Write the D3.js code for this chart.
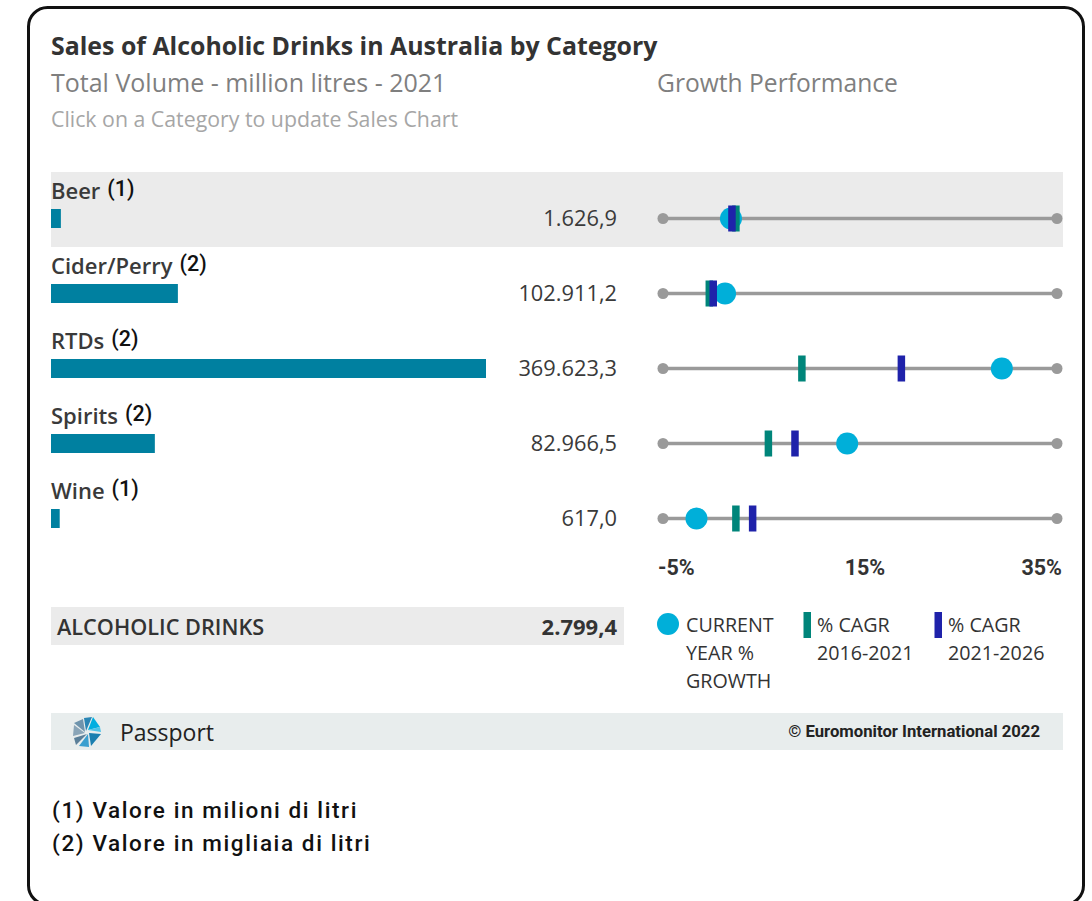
<!DOCTYPE html>
<html>
<head>
<meta charset="utf-8">
<script src="https://cdn.jsdelivr.net/npm/d3@7"></script>
<style>
  html, body { margin: 0; padding: 0; background: #ffffff; }
  svg { display: block; }
</style>
</head>
<body>
<svg id="chart" width="1092" height="901"></svg>
<script>
// ---- data ----
const categories = ["Beer", "Cider/Perry", "RTDs", "Spirits", "Wine"];
const unitNotes = ["(1)", "(2)", "(2)", "(2)", "(1)"];
const volumes = [1626.9, 102911.2, 369623.3, 82966.5, 617.0];
const currentYearGrowth = [1.9, 1.3, 29.4, 13.7, -1.6];
const cagr2016to2021 = [2.4, -0.3, 9.1, 5.7, 2.4];
const cagr2021to2026 = [2.0, 0.1, 19.2, 8.4, 4.1];
const growthDomain = [-5, 35];
const growthTicks = [-5, 15, 35];
const selectedCategory = "Beer";
const totalLabel = "ALCOHOLIC DRINKS";
const totalValue = 2799.4;
const footnotes = ["(1) Valore in milioni di litri", "(2) Valore in migliaia di litri"];

// ---- styling ----
const C = {
  bar: "#0080a0",
  current: "#00afd9",
  cagrPast: "#00857a",
  cagrFuture: "#1f22aa",
  track: "#9a9a9a",
  band: "#ebebeb",
  footer: "#e8eded",
  text: "#3a3a3a"
};
const SANS = "'Open Sans', 'Noto Sans', sans-serif";
const DIN = "Roboto, 'Noto Sans', sans-serif";

const it = d3.formatLocale({ decimal: ",", thousands: ".", grouping: [3], currency: ["", " €"] });
const fmt = it.format(",.1f");

const rows = categories.map((c, i) => ({
  name: c, note: unitNotes[i], volume: volumes[i],
  current: currentYearGrowth[i], past: cagr2016to2021[i], future: cagr2021to2026[i]
}));

const svg = d3.select("#chart");

// outer frame
svg.append("rect")
  .attr("x", 28.5).attr("y", 7.5).attr("width", 1055).attr("height", 897)
  .attr("rx", 19).attr("fill", "#fff").attr("stroke", "#111").attr("stroke-width", 3);

// ---- headings ----
svg.append("text").attr("x", 51).attr("y", 55)
  .attr("font-family", SANS).attr("font-weight", 700).attr("font-size", 24.9)
  .attr("fill", "#333").text("Sales of Alcoholic Drinks in Australia by Category");
svg.append("text").attr("x", 51).attr("y", 92)
  .attr("font-family", SANS).attr("font-size", 25).attr("fill", "#7f7f7f")
  .text("Total Volume - million litres - 2021");
svg.append("text").attr("x", 657).attr("y", 92)
  .attr("font-family", SANS).attr("font-size", 24.6).attr("fill", "#7f7f7f")
  .text("Growth Performance");
svg.append("text").attr("x", 51).attr("y", 127)
  .attr("font-family", SANS).attr("font-size", 21.3).attr("fill", "#a6a6a6")
  .text("Click on a Category to update Sales Chart");

// ---- scales ----
const rowY = d3.scalePoint().domain(categories).range([218.5, 518.5]);
const barW = d3.scaleLinear().domain([0, d3.max(volumes)]).range([8, 435]);
const gx = d3.scaleLinear().domain(growthDomain).range([663, 1057]);
const barLeft = 51;
const valueRight = 617;

// selected row band
svg.append("rect")
  .attr("x", 51).attr("y", rowY(selectedCategory) - 46.5)
  .attr("width", 1012).attr("height", 75).attr("fill", C.band);

const row = svg.selectAll("g.row").data(rows).join("g")
  .attr("class", "row")
  .attr("transform", d => `translate(0,${rowY(d.name)})`);

// category label with unit note
const lab = row.append("text").attr("x", 51).attr("y", -19.5)
  .attr("font-family", SANS).attr("font-weight", 600).attr("font-size", 22).attr("fill", C.text);
lab.append("tspan").text(d => d.name);
lab.append("tspan").attr("dx", 7).attr("dy", -3)
  .attr("font-family", DIN).attr("font-weight", 500).attr("font-size", 21.5).attr("fill", "#111")
  .text(d => d.note);

// volume bar
row.append("rect").attr("x", barLeft).attr("y", -9.5)
  .attr("width", d => barW(d.volume)).attr("height", 19).attr("fill", C.bar);

// value label
row.append("text").attr("x", valueRight).attr("y", 7.5).attr("text-anchor", "end")
  .attr("font-family", SANS).attr("font-size", 21.8).attr("fill", C.text)
  .text(d => fmt(d.volume));

// growth track
row.append("line").attr("x1", gx(growthDomain[0])).attr("x2", gx(growthDomain[1]))
  .attr("y1", 0).attr("y2", 0).attr("stroke", C.track).attr("stroke-width", 3.5);
row.selectAll("circle.end").data(growthDomain).join("circle").attr("class", "end")
  .attr("cx", v => gx(v)).attr("cy", 0).attr("r", 5.5).attr("fill", C.track);

// growth markers: current year, CAGR 2016-2021, CAGR 2021-2026
row.append("circle").attr("cx", d => gx(d.current)).attr("cy", 0).attr("r", 11).attr("fill", C.current);
row.append("rect").attr("x", d => gx(d.past) - 3.75).attr("y", -13)
  .attr("width", 7.5).attr("height", 26).attr("fill", C.cagrPast);
row.append("rect").attr("x", d => gx(d.future) - 3.75).attr("y", -13)
  .attr("width", 7.5).attr("height", 26).attr("fill", C.cagrFuture);

// growth axis labels
svg.selectAll("text.tick").data(growthTicks).join("text").attr("class", "tick")
  .attr("x", (v, i) => i === 0 ? gx(v) - 5 : i === growthTicks.length - 1 ? gx(v) + 5 : gx(v) + 5)
  .attr("y", 575)
  .attr("text-anchor", (v, i) => i === 0 ? "start" : i === growthTicks.length - 1 ? "end" : "middle")
  .attr("font-family", DIN).attr("font-weight", 700).attr("font-size", 21.5).attr("fill", "#333")
  .text(v => v + "%");

// ---- total row ----
svg.append("rect").attr("x", 51).attr("y", 607).attr("width", 573).attr("height", 38).attr("fill", C.band);
svg.append("text").attr("x", 57).attr("y", 635)
  .attr("font-family", SANS).attr("font-weight", 600).attr("font-size", 21.7).attr("fill", "#333")
  .text(totalLabel);
svg.append("text").attr("x", valueRight).attr("y", 635).attr("text-anchor", "end")
  .attr("font-family", SANS).attr("font-weight", 700).attr("font-size", 22).attr("fill", "#333")
  .text(fmt(totalValue));

// ---- legend ----
const lg = svg.append("g").attr("font-family", SANS).attr("font-size", 19.7).attr("fill", "#333");
lg.append("circle").attr("cx", 668).attr("cy", 624).attr("r", 11).attr("fill", C.current);
["CURRENT", "YEAR %", "GROWTH"].forEach((t, i) =>
  lg.append("text").attr("x", 686).attr("y", 631.5 + i * 28).text(t));
lg.append("rect").attr("x", 803.5).attr("y", 612).attr("width", 7.5).attr("height", 26).attr("fill", C.cagrPast);
["% CAGR", "2016-2021"].forEach((t, i) =>
  lg.append("text").attr("x", 817).attr("y", 631.5 + i * 28).text(t));
lg.append("rect").attr("x", 934.5).attr("y", 612).attr("width", 7.5).attr("height", 26).attr("fill", C.cagrFuture);
["% CAGR", "2021-2026"].forEach((t, i) =>
  lg.append("text").attr("x", 948).attr("y", 631.5 + i * 28).text(t));

// ---- footer bar ----
svg.append("rect").attr("x", 51).attr("y", 713).attr("width", 1012).attr("height", 37).attr("fill", C.footer);
const logo = svg.append("g").attr("transform", "translate(87,732)");
[
  { p: "M1,-2 L6,-15 L13,-5 Z", f: "#00aee0" },
  { p: "M1,-2 L13,-5 L14,0 Z", f: "#4fc3e8" },
  { p: "M-1,-1 L-3,-14 L5,-15 Z", f: "#2a86b5" },
  { p: "M-2,0 L-13,-9 L-4,-13 Z", f: "#6f94ad" },
  { p: "M-2,1 L-14,4 L-13,-7 Z", f: "#8aa5b8" },
  { p: "M0,2 L-11,13 L-13,6 Z", f: "#5a7f99" },
  { p: "M1,2 L2,15 L-8,14 Z", f: "#3b9fcf" },
  { p: "M2,1 L14,2 L4,14 Z", f: "#1a7fb0" }
].forEach(s => logo.append("path").attr("d", s.p).attr("fill", s.f));
svg.append("text").attr("x", 120).attr("y", 741)
  .attr("font-family", SANS).attr("font-size", 23).attr("fill", "#222").text("Passport");
svg.append("text").attr("x", 1040).attr("y", 737).attr("text-anchor", "end")
  .attr("font-family", DIN).attr("font-weight", 700).attr("font-size", 16.7).attr("fill", "#222")
  .text("© Euromonitor International 2022");

// ---- footnotes ----
svg.selectAll("text.note").data(footnotes).join("text").attr("class", "note")
  .attr("x", 52).attr("y", (d, i) => 818 + i * 33)
  .attr("font-family", DIN).attr("font-weight", 500).attr("font-size", 22.5)
  .attr("letter-spacing", 1.6).attr("fill", "#111")
  .text(d => d);
</script>
</body>
</html>
